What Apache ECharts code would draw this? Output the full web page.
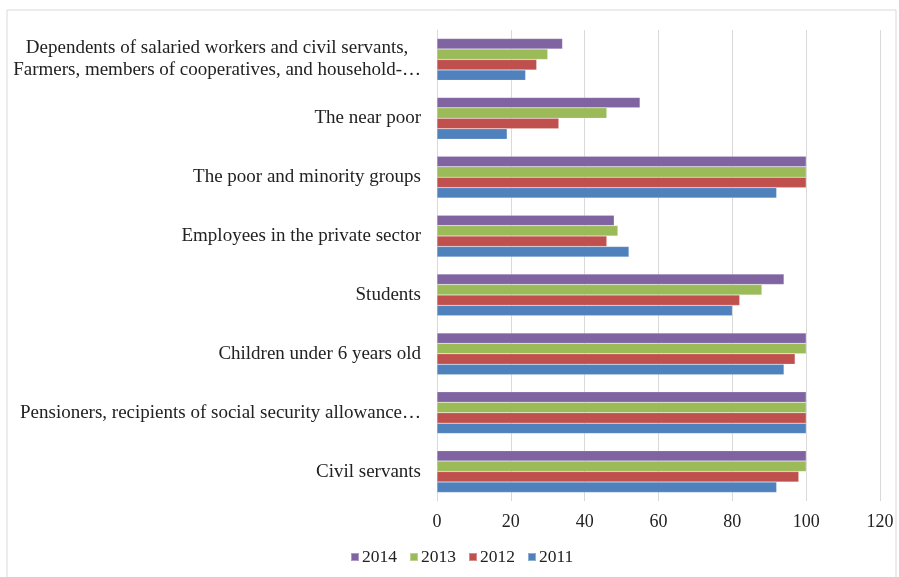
<!DOCTYPE html>
<html>
<head>
<meta charset="utf-8">
<script src="https://cdn.jsdelivr.net/npm/echarts@6/dist/echarts.min.js"></script>
<style>
html,body{margin:0;padding:0;background:#fff;}
#chart{width:899px;height:577px;}
</style>
</head>
<body>
<div id="chart"></div>
<script>
var categories = [
  "Civil servants",
  "Pensioners, recipients of social security allowance\u2026",
  "Children under 6 years old",
  "Students",
  "Employees in the private sector",
  "The poor and minority groups",
  "The near poor",
  "Dependents of salaried workers and civil servants,\nFarmers, members of cooperatives, and household-\u2026"
];
var s2011 = [92, 100, 94, 80, 52, 92, 19, 24];
var s2012 = [98, 100, 97, 82, 46, 100, 33, 27];
var s2013 = [100, 100, 100, 88, 49, 100, 46, 30];
var s2014 = [100, 100, 100, 94, 48, 100, 55, 34];
var xTicks = [0, 20, 40, 60, 80, 100, 120];
var legendOrder = ["2014", "2013", "2012", "2011"];

var chart = echarts.init(document.getElementById('chart'), null, {renderer: 'canvas'});
var font = "'Liberation Serif', 'Times New Roman', serif";
function mk(name, data, color) {
  return {
    name: name, type: 'bar', data: data,
    barGap: '0%', barCategoryGap: '29%',
    itemStyle: {color: color, borderColor: 'rgba(255,255,255,0.35)', borderWidth: 0.5},
    emphasis: {disabled: true}
  };
}
chart.setOption({
  backgroundColor: '#ffffff',
  animation: false,
  textStyle: {fontFamily: font},
  graphic: [{
    type: 'rect', silent: true,
    shape: {x: 7, y: 10, width: 889, height: 600},
    style: {fill: 'none', stroke: '#d9d9d9', lineWidth: 1}
  }],
  grid: {left: 437, right: 19, top: 30, bottom: 76},
  legend: {
    data: legendOrder,
    bottom: 6, left: 345,
    itemWidth: 8, itemHeight: 8, itemGap: 12,
    icon: 'rect',
    textStyle: {fontFamily: font, fontSize: 17.5, color: '#222', padding: [0,0,0,-2]}
  },
  xAxis: {
    type: 'value', min: 0, max: 120, interval: 20,
    axisLine: {show: false}, axisTick: {show: false},
    splitLine: {show: true, lineStyle: {color: '#d9d9d9', width: 1}},
    axisLabel: {fontFamily: font, fontSize: 18, color: '#222', margin: 12,
      formatter: function(v){ return xTicks.indexOf(v) >= 0 ? String(v) : ''; }}
  },
  yAxis: {
    type: 'category', data: categories,
    axisLine: {show: true, lineStyle: {color: '#d9d9d9'}},
    axisTick: {show: false},
    axisLabel: {
      fontFamily: font, fontSize: 19, color: '#222', margin: 16, lineHeight: 22,
      formatter: function(v){
        return v.split('\n').map(function(l){ return '{c|' + l + '}'; }).join('\n');
      },
      rich: {c: {fontFamily: font, fontSize: 19, color: '#222', lineHeight: 22, align: 'center'}}
    }
  },
  series: [
    mk('2014', s2014, '#8064A2'),
    mk('2013', s2013, '#9BBB59'),
    mk('2012', s2012, '#C0504D'),
    mk('2011', s2011, '#4F81BD')
  ]
});
</script>
</body>
</html>
